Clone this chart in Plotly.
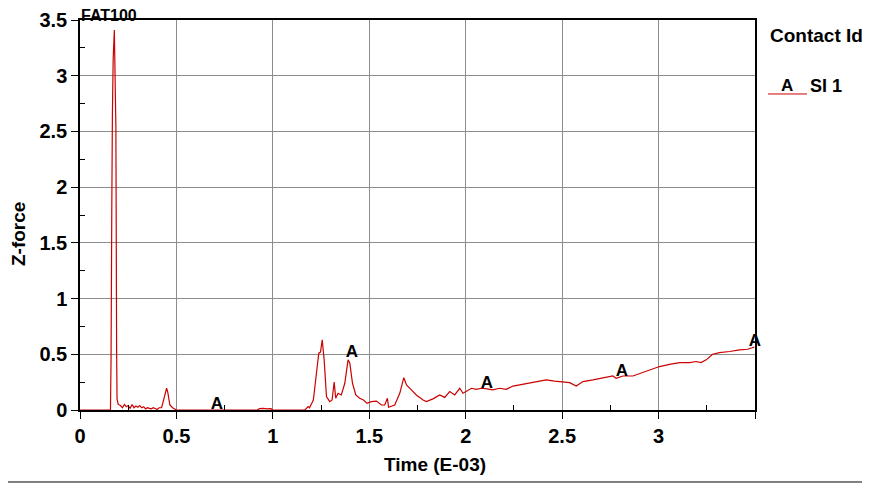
import plotly.graph_objects as go

# Z-force history for contact SI 1 (time in E-03)
time = [0.0, 0.158, 0.161, 0.162, 0.165, 0.168, 0.170, 0.172, 0.178, 0.181, 0.183,
        0.186, 0.190, 0.192, 0.198, 0.21, 0.22, 0.23, 0.24, 0.25, 0.26, 0.27, 0.28,
        0.29, 0.30, 0.31, 0.32, 0.33, 0.34, 0.35, 0.36, 0.37, 0.38, 0.39, 0.40, 0.41,
        0.423, 0.435, 0.449, 0.455, 0.466, 0.48, 0.49, 0.50,
        0.92, 0.93, 0.95, 0.97, 0.99, 1.0,
        1.166, 1.183, 1.19, 1.21, 1.226, 1.238, 1.247, 1.256, 1.266, 1.278, 1.295,
        1.307, 1.318, 1.326, 1.338, 1.355, 1.373, 1.39, 1.399, 1.413, 1.43, 1.45,
        1.47, 1.488, 1.51, 1.537, 1.563, 1.58, 1.594, 1.60, 1.632, 1.658, 1.679,
        1.693, 1.718, 1.744, 1.779, 1.796, 1.83, 1.848, 1.865, 1.891, 1.917, 1.943,
        1.969, 1.986, 2.003, 2.03, 2.055, 2.081, 2.11, 2.14, 2.176, 2.21, 2.245,
        2.28, 2.315, 2.349, 2.383, 2.418, 2.461, 2.496, 2.539, 2.573, 2.608, 2.66,
        2.711, 2.763, 2.78, 2.815, 2.867, 2.918, 2.97, 3.005, 3.057, 3.109, 3.161,
        3.195, 3.22, 3.247, 3.28, 3.316, 3.368, 3.42, 3.462, 3.497]
zforce = [0.0, 0.0, 0.45, 1.8, 1.85, 2.65, 3.14, 3.15, 3.41, 3.15, 2.65,
          2.55, 0.5, 0.1, 0.05, 0.04, 0.02, 0.05, 0.03, 0.04, 0.015, 0.05, 0.02,
          0.035, 0.025, 0.04, 0.02, 0.03, 0.01, 0.02, 0.015, 0.01, 0.02, 0.01, 0.005, 0.02,
          0.02, 0.1, 0.195, 0.16, 0.045, 0.02, 0.01, 0.0,
          0.0, 0.012, 0.015, 0.01, 0.012, 0.0,
          0.0, 0.03, 0.02, 0.09, 0.33, 0.51, 0.52, 0.63, 0.45, 0.12, 0.075,
          0.09, 0.25, 0.105, 0.15, 0.135, 0.24, 0.45, 0.42, 0.24, 0.135, 0.105,
          0.09, 0.06, 0.075, 0.08, 0.045, 0.045, 0.105, 0.025, 0.045, 0.15, 0.29,
          0.225, 0.18, 0.135, 0.09, 0.075, 0.1, 0.12, 0.135, 0.113, 0.165, 0.135,
          0.195, 0.15, 0.165, 0.195, 0.185, 0.195, 0.19, 0.18, 0.195, 0.185, 0.215,
          0.225, 0.24, 0.245, 0.255, 0.27, 0.26, 0.255, 0.245, 0.215, 0.255, 0.27,
          0.29, 0.305, 0.285, 0.305, 0.305, 0.335, 0.365, 0.39, 0.41, 0.425, 0.425,
          0.435, 0.425, 0.45, 0.5, 0.515, 0.525, 0.54, 0.545, 0.565]

# curve identifier letters along the line
label_x = [0.71, 1.41, 2.11, 2.81, 3.5]
label_y = [0.045, 0.51, 0.24, 0.34, 0.61]

x_ticks = [0, 0.5, 1, 1.5, 2, 2.5, 3, 3.5]
x_ticktext = ["0", "0.5", "1", "1.5", "2", "2.5", "3", ""]
x_minor = [0.25, 0.75, 1.25, 1.75, 2.25, 2.75, 3.25]
y_ticks = [0, 0.5, 1, 1.5, 2, 2.5, 3, 3.5]
y_ticktext = ["0", "0.5", "1", "1.5", "2", "2.5", "3", "3.5"]
y_minor = [0.25, 0.75, 1.25, 1.75, 2.25, 2.75, 3.25]

RED = "#cc0000"
FONT = "Liberation Sans, Arial, sans-serif"

fig = go.Figure()

fig.add_trace(go.Scatter(
    x=time, y=zforce,
    mode="lines",
    line=dict(color=RED, width=1.2),
    hoverinfo="skip",
    showlegend=False,
))

fig.add_trace(go.Scatter(
    x=label_x, y=label_y,
    mode="text",
    text=["A"] * len(label_x),
    textposition="middle center",
    textfont=dict(family=FONT, size=17, color="black", weight="bold"),
    cliponaxis=False,
    hoverinfo="skip",
    showlegend=False,
))

axis_common = dict(
    showgrid=True, gridcolor="#8c8c8c", gridwidth=1,
    zeroline=False, automargin=False,
    showline=True, linecolor="black", linewidth=1.5, mirror=True,
    ticks="outside", ticklen=7, tickcolor="black",
    tickfont=dict(family=FONT, size=20, color="black", weight="bold"),
)

# the page body has an 8px margin, so the margins are shifted to compensate
fig.update_layout(
    width=870, height=483,
    paper_bgcolor="white", plot_bgcolor="white",
    margin=dict(l=72, r=123, t=12, b=81),
    font=dict(family=FONT, color="black"),
    xaxis=dict(range=[0, 3.5], tickmode="array", tickvals=x_ticks, ticktext=x_ticktext,
               minor=dict(tickmode="array", tickvals=x_minor, ticks="inside",
                          ticklen=5, tickcolor="black", showgrid=False),
               **axis_common),
    yaxis=dict(range=[0, 3.5], tickmode="array", tickvals=y_ticks, ticktext=y_ticktext,
               minor=dict(tickmode="array", tickvals=y_minor, ticks="inside",
                          ticklen=5, tickcolor="black", showgrid=False),
               **axis_common),
)

bold = dict(family=FONT, size=19, color="black", weight="bold")

# title squeezed into the strip above the frame
fig.add_annotation(text="FAT100", xref="paper", yref="paper", x=0, y=1.0103,
                   xanchor="left", yanchor="middle", showarrow=False, borderpad=0,
                   font=dict(family=FONT, size=16, color="black", weight="bold"))

# axis titles placed as annotations to match the original offsets
fig.add_annotation(text="Z-force", xref="paper", yref="paper", x=-0.092, y=0.451,
                   textangle=-90, xanchor="center", yanchor="middle", showarrow=False,
                   font=bold)
fig.add_annotation(text="Time (E-03)", xref="paper", yref="paper", x=0.526, y=-0.1385,
                   xanchor="center", yanchor="middle", showarrow=False, font=bold)

# legend block
fig.add_annotation(text="Contact Id", xref="paper", yref="paper", x=1.0193, y=0.959,
                   xanchor="left", yanchor="middle", showarrow=False, font=bold)
fig.add_shape(type="line", xref="paper", yref="paper", x0=1.0193, x1=1.077,
              y0=0.8103, y1=0.8103, line=dict(color=RED, width=1))
fig.add_annotation(text="A", xref="paper", yref="paper", x=1.0481, y=0.8308,
                   xanchor="center", yanchor="middle", showarrow=False,
                   font=dict(family=FONT, size=17, color="black", weight="bold"))
fig.add_annotation(text="SI 1", xref="paper", yref="paper", x=1.0785, y=0.8308,
                   xanchor="left", yanchor="middle", showarrow=False,
                   font=dict(family=FONT, size=18, color="black", weight="bold"))

# edge of the next panel visible at the bottom of the capture
fig.add_shape(type="line", xref="paper", yref="paper", x0=-0.1185, x1=1.1778,
              y0=-0.1846, y1=-0.1846, line=dict(color="black", width=1))

fig.write_html("out.html")
